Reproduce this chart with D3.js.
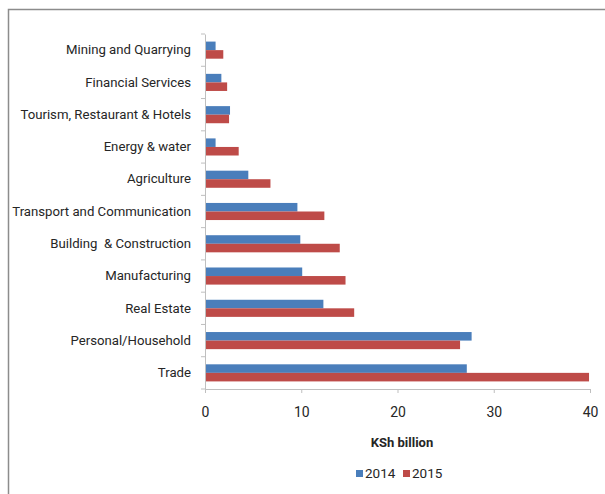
<!DOCTYPE html>
<html>
<head>
<meta charset="utf-8">
<script src="https://cdn.jsdelivr.net/npm/d3@7/dist/d3.min.js"></script>
<style>
  html, body { margin: 0; padding: 0; background: #fff; }
  svg { display: block; }
  text { font-family: "Roboto", "Liberation Sans", sans-serif; fill: #262626; white-space: pre; }
</style>
</head>
<body>
<svg id="chart" width="605" height="494"></svg>
<script>
// Credit to private sector by activity, KSh billion
const sectors = [
  "Mining and Quarrying",
  "Financial Services",
  "Tourism, Restaurant & Hotels",
  "Energy & water",
  "Agriculture",
  "Transport and Communication",
  "Building  & Construction",
  "Manufacturing",
  "Real Estate",
  "Personal/Household",
  "Trade"
];
const values2014 = [1.1, 1.7, 2.6, 1.1, 4.5, 9.6, 9.9, 10.1, 12.3, 27.7, 27.2];
const values2015 = [1.9, 2.3, 2.5, 3.5, 6.8, 12.4, 14.0, 14.6, 15.5, 26.5, 39.9];
const seriesNames = ["2014", "2015"];
const xTicks = [0, 10, 20, 30, 40];
const axisTitle = "KSh billion";

const colors = { "2014": "#4a7ebb", "2015": "#be4b48" };

const svg = d3.select("#chart");

// outer frame
svg.append("path")
  .attr("d", "M8.5,494 V9.5 H605")
  .attr("fill", "none")
  .attr("stroke", "#8c8c8c")
  .attr("stroke-width", 1.5);

const plotLeft = 205, plotRight = 590, plotTop = 34, plotBottom = 389;

const x = d3.scaleLinear().domain([0, 40]).range([plotLeft, plotRight]);
const y = d3.scaleBand().domain(sectors).range([plotTop, plotBottom]).paddingInner(0.47).paddingOuter(0.235);
const ySub = d3.scaleBand().domain(seriesNames).range([0, y.bandwidth()]);

const rows = sectors.map((s, i) => ({ sector: s, "2014": values2014[i], "2015": values2015[i] }));

const groups = svg.append("g").selectAll("g")
  .data(rows)
  .join("g")
  .attr("transform", d => `translate(0,${y(d.sector)})`);

groups.selectAll("rect")
  .data(d => seriesNames.map(k => ({ key: k, value: d[k] })))
  .join("rect")
  .attr("x", x(0))
  .attr("y", d => ySub(d.key))
  .attr("width", d => x(d.value) - x(0))
  .attr("height", ySub.bandwidth())
  .attr("fill", d => colors[d.key]);

// category axis
const yAxisBand = d3.scaleBand().domain(sectors).range([plotTop, plotBottom]);
const yAxis = svg.append("g")
  .attr("transform", `translate(${plotLeft},0)`)
  .call(d3.axisLeft(yAxisBand).tickSize(0).tickPadding(14));
yAxis.select(".domain").attr("stroke", "#bfbfbf");
yAxis.selectAll("text")
  .attr("font-size", 13.2)
  .attr("font-family", "Roboto, sans-serif")
  .attr("fill", "#262626");

// small tick marks between categories
svg.append("g").selectAll("line")
  .data(d3.range(sectors.length + 1))
  .join("line")
  .attr("x1", plotLeft - 4).attr("x2", plotLeft)
  .attr("y1", i => plotTop + i * yAxisBand.step())
  .attr("y2", i => plotTop + i * yAxisBand.step())
  .attr("stroke", "#bfbfbf");

// value axis
const xAxis = svg.append("g")
  .attr("transform", `translate(0,${plotBottom})`)
  .call(d3.axisBottom(x).tickValues(xTicks).tickSize(4).tickPadding(14).tickSizeOuter(0));
xAxis.select(".domain").attr("stroke", "#bfbfbf");
xAxis.selectAll("line").attr("stroke", "#bfbfbf");
xAxis.selectAll("text")
  .attr("font-size", 14)
  .attr("font-family", "Roboto, sans-serif")
  .attr("fill", "#262626");

svg.append("text")
  .attr("x", 402)
  .attr("y", 447)
  .attr("text-anchor", "middle")
  .attr("font-size", 13)
  .attr("font-weight", "bold")
  .text(axisTitle);

// legend
const legend = svg.append("g").attr("transform", "translate(356,473)");
const items = legend.selectAll("g")
  .data(seriesNames)
  .join("g")
  .attr("transform", (d, i) => `translate(${i * 47},0)`);
items.append("rect")
  .attr("x", 0).attr("y", -3)
  .attr("width", 7).attr("height", 7)
  .attr("fill", d => colors[d]);
items.append("text")
  .attr("x", 9).attr("y", 0)
  .attr("dy", "0.35em")
  .attr("font-size", 13.5)
  .text(d => d);
</script>
</body>
</html>
